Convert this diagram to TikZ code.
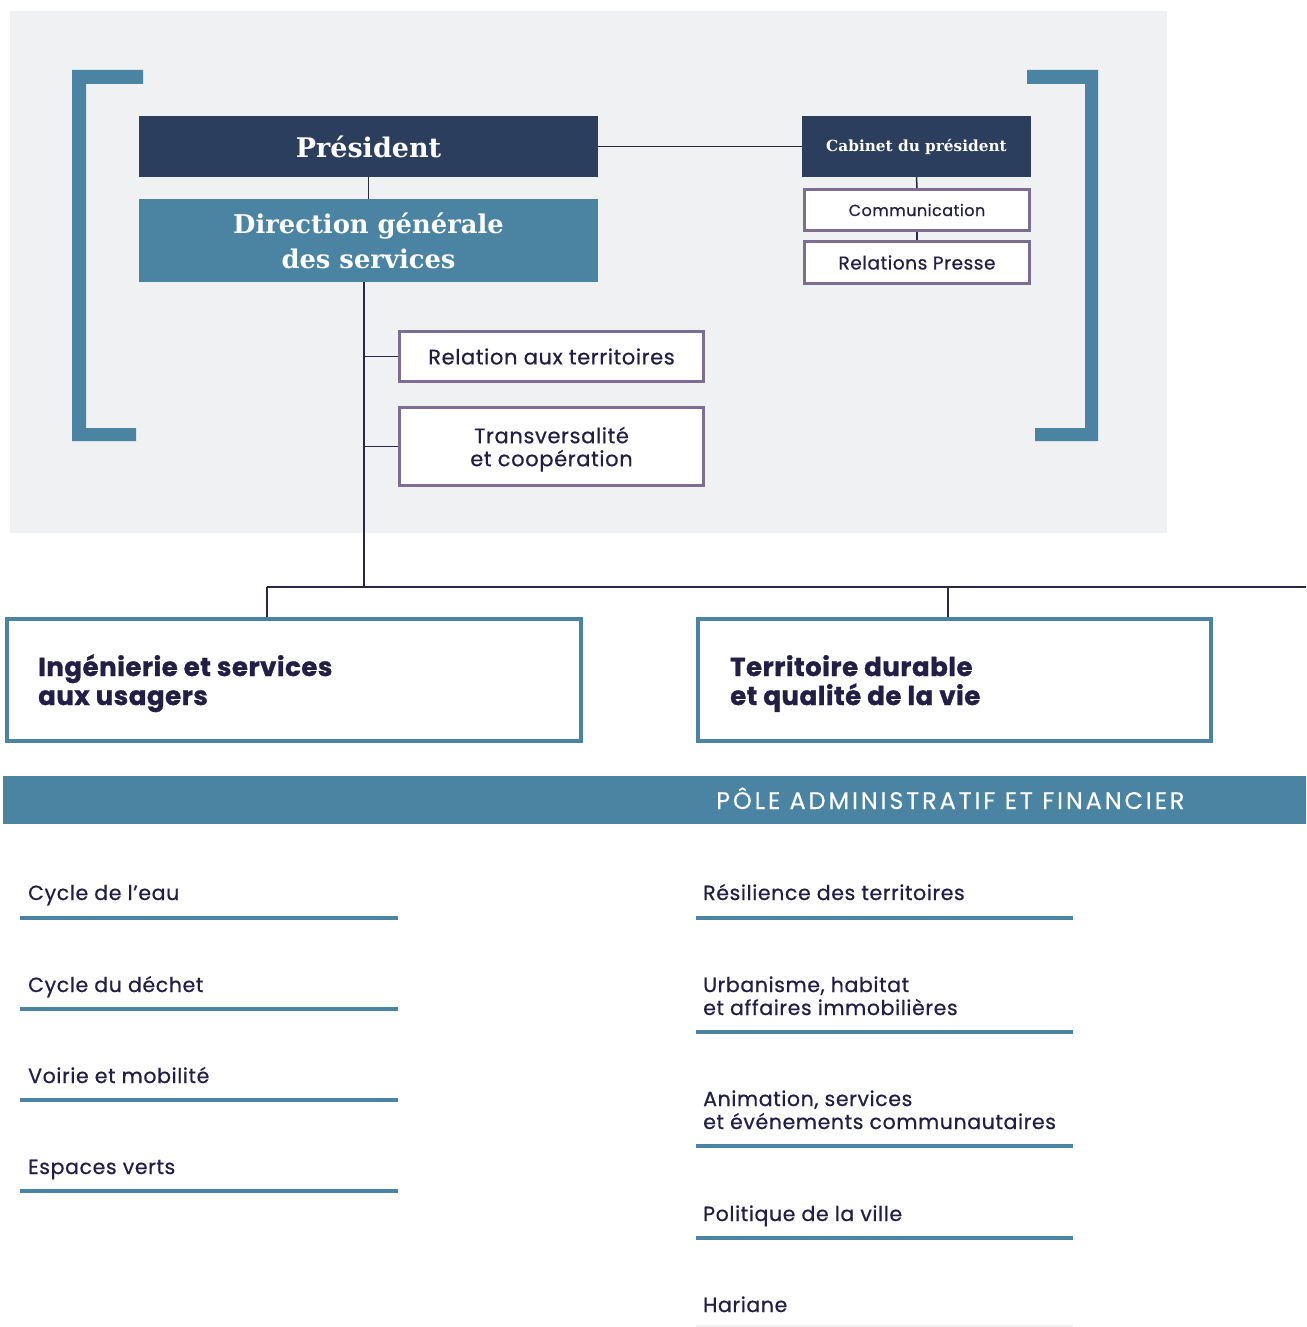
\documentclass[tikz,border=0pt]{standalone}
\usepackage{fontspec}
\setmainfont{Poppins}
\newfontfamily\medfnt{Poppins}[FakeBold=0.6, LetterSpace=3]
\newfontfamily\bannerfnt{Poppins}[FakeBold=0.3, LetterSpace=12]
\newfontfamily\heavyfnt{Poppins}[BoldFeatures={FakeBold=1.2}, LetterSpace=2]
\newfontfamily\hdrfnt{DejaVu Serif}
\definecolor{bggray}{HTML}{F0F1F3}
\definecolor{navy}{HTML}{2C3E5E}
\definecolor{steel}{HTML}{4A84A2}
\definecolor{plum}{HTML}{7B6E91}
\definecolor{ink}{HTML}{221E45}
\definecolor{wire}{HTML}{2A2745}
\tikzset{
  darkbox/.style={fill=navy, text=white, draw=none, inner sep=0pt, minimum width=#1},
  smallbox/.style={fill=white, draw=plum, line width=3pt, text=ink, inner sep=0pt, minimum width=#1, align=center},
  polebox/.style={fill=white, draw=steel, line width=4pt, inner sep=0pt, minimum width=#1, minimum height=122pt},
  poletext/.style={anchor=base west, inner sep=0pt, text=ink, align=left, font=\heavyfnt\bfseries\fontsize{26}{29}\selectfont},
  conn/.style={draw=wire, line width=1.5pt},
  item/.style={anchor=base west, inner sep=0pt, text=ink, align=left, font=\medfnt\fontsize{20.5}{23}\selectfont},
  rule/.style={draw=steel, line width=4pt},
}
\begin{document}
\begin{tikzpicture}[x=1pt,y=-1pt]
\useasboundingbox (0,0) rectangle (1306,1327);
\fill[white] (0,0) rectangle (1306,1327);
\fill[bggray] (10,11) rectangle (1167,533);
% brackets
\fill[steel] (72,70) -- (143,70) -- (143,84) -- (86,84) -- (86,428) -- (136,428) -- (136,441) -- (72,441) -- cycle;
\fill[steel] (1027,70) -- (1098,70) -- (1098,441) -- (1035,441) -- (1035,428) -- (1085,428) -- (1085,84) -- (1027,84) -- cycle;
% top boxes
\node[darkbox=459pt, minimum height=61pt, font=\hdrfnt\bfseries\fontsize{27}{30}\selectfont] (pres) at (368.5,146.5) {Président};
\node[darkbox=459pt, fill=steel, minimum height=83pt, align=center, font=\hdrfnt\bfseries\fontsize{25.8}{35}\selectfont] (dgs) at (368.5,240.5) {Direction générale\\des services};
\node[darkbox=229pt, minimum height=61pt, font=\hdrfnt\bfseries\fontsize{15.3}{18}\selectfont] (cab) at (916.5,146.5) {Cabinet du président};
\node[smallbox=225pt, minimum height=41pt, font=\medfnt\fontsize{16}{18}\selectfont] (comm) at (917,210) {Communication};
\node[smallbox=225pt, minimum height=42pt, font=\medfnt\fontsize{18.5}{20}\selectfont] (rp) at (917,262.5) {Relations Presse};
\node[smallbox=304pt, minimum height=50pt, font=\medfnt\fontsize{21}{23}\selectfont] (rat) at (551.5,356.5) {Relation aux territoires};
\node[smallbox=304pt, minimum height=78pt, font=\medfnt\fontsize{21}{23}\selectfont, text depth=0pt] (tc) at (551.5,446.5) {Transversalité\\et coopération};
% connectors top
\draw[conn] (pres.east) -- (cab.west);
\draw[conn] (pres.south) -- (dgs.north);
\draw[conn] (cab.south) -- (comm.north);
\draw[conn] (comm.south) -- (rp.north);
\coordinate (hub) at (364,587);
\coordinate (jl) at (267,587);
\coordinate (jr) at (948,587);
\coordinate (rend) at (1306,587);
\draw[conn] (dgs.south -| hub) -- (hub);
\draw[conn] (rat.west -| hub) -- (rat.west);
\draw[conn] (tc.west -| hub) -- (tc.west);
% poles
\node[polebox=574pt] (ing) at (294,680) {};
\node[poletext] (ingtxt) at (38,705) {Ingénierie et services\\aux usagers};
\node[polebox=513pt] (ter) at (954.5,680) {};
\node[poletext] (tertxt) at (730,705) {Territoire durable\\et qualité de la vie};
\draw[conn] (jl) -- (rend);
\draw[conn] (ing.north -| jl) -- (jl);
\draw[conn] (ter.north -| jr) -- (jr);
% banner
\node[fill=steel, minimum width=1303pt, minimum height=48pt, inner sep=0pt] (banner) at (654.5,800) {};
\node[anchor=base west, inner sep=0pt, text=white, font=\bannerfnt\fontsize{24}{26}\selectfont] (bannertext) at (716,809) {PÔLE ADMINISTRATIF ET FINANCIER};
% left list
\node[item] (l1) at (28,900) {Cycle de l’eau};
\draw[rule] (20,917.5) -- (398,917.5);
\node[item] (l2) at (28,992) {Cycle du déchet};
\draw[rule] (20,1008.5) -- (398,1008.5);
\node[item] (l3) at (28,1083) {Voirie et mobilité};
\draw[rule] (20,1100) -- (398,1100);
\node[item] (l4) at (28,1174) {Espaces verts};
\draw[rule] (20,1191) -- (398,1191);
% right list
\node[item] (r1) at (703,900) {Résilience des territoires};
\draw[rule] (696,917.5) -- (1073,917.5);
\node[item] (r2) at (703,1015) {Urbanisme, habitat\\et affaires immobilières};
\draw[rule] (696,1031.5) -- (1073,1031.5);
\node[item] (r3) at (703,1129) {Animation, services\\et événements communautaires};
\draw[rule] (696,1146) -- (1073,1146);
\node[item] (r4) at (703,1221) {Politique de la ville};
\draw[rule] (696,1237.5) -- (1073,1237.5);
\node[item] (r5) at (703,1312) {Hariane};
\draw[draw=bggray, line width=1.5pt] (696,1326) -- (1073,1326);
\end{tikzpicture}
\end{document}
